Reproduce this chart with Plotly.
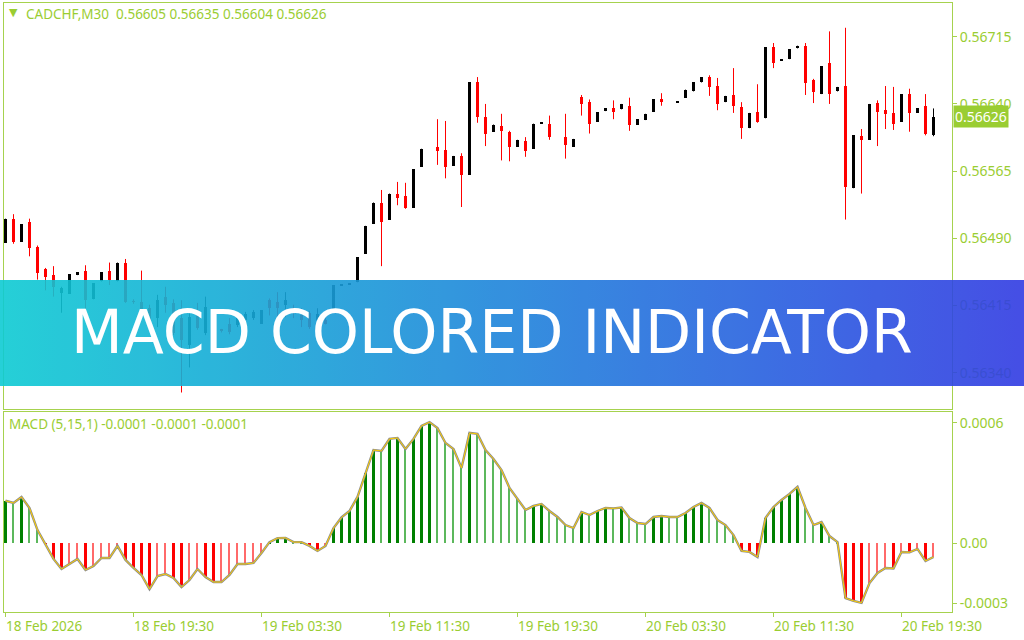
import base64
import plotly.graph_objects as go
from plotly.subplots import make_subplots

# CADCHF M30 candles, prices in points (x 1e-5)
open_pts = [56485, 56512, 56486, 56508, 56480, 56456, 56449, 56429, 56428, 56449,
            56454, 56422, 56442, 56454, 56442, 56463, 56420, 56419, 56412, 56401,
            56425, 56418, 56401, 56371, 56410, 56384, 56380, 56388, 56395, 56393,
            56399, 56401, 56395, 56421, 56419, 56416, 56412, 56404, 56407, 56399,
            56399, 56410, 56437, 56439, 56441, 56473, 56506, 56530, 56511, 56540,
            56537, 56524, 56570, 56590, 56592, 56589, 56571, 56582, 56561, 56664,
            56625, 56609, 56615, 56609, 56592, 56599, 56590, 56618, 56618, 56603,
            56603, 56592, 56648, 56642, 56620, 56632, 56635, 56634, 56638, 56617,
            56622, 56631, 56645, 56642, 56642, 56647, 56654, 56664, 56670, 56660,
            56642, 56650, 56637, 56613, 56631, 56624, 56703, 56688, 56690, 56702,
            56705, 56667, 56651, 56686, 56654, 56660, 56546, 56604, 56600, 56641,
            56633, 56630, 56620, 56651, 56630, 56638, 56605]
close_pts = [56512, 56486, 56506, 56479, 56451, 56447, 56436, 56435, 56450, 56452,
             56421, 56440, 56452, 56444, 56463, 56419, 56419, 56411, 56393, 56421,
             56416, 56384, 56377, 56402, 56390, 56413, 56384, 56387, 56385, 56401,
             56406, 56408, 56410, 56412, 56412, 56421, 56407, 56399, 56391, 56406,
             56395, 56438, 56438, 56440, 56469, 56504, 56530, 56508, 56540, 56535,
             56524, 56567, 56590, 56590, 56588, 56570, 56582, 56561, 56664, 56625,
             56607, 56617, 56610, 56592, 56600, 56588, 56618, 56619, 56603, 56603,
             56594, 56601, 56640, 56618, 56631, 56635, 56631, 56640, 56617, 56623,
             56629, 56645, 56642, 56642, 56643, 56656, 56664, 56670, 56659, 56640,
             56649, 56638, 56613, 56630, 56620, 56703, 56686, 56690, 56701, 56705,
             56663, 56653, 56682, 56651, 56659, 56547, 56605, 56600, 56640, 56631,
             56629, 56618, 56651, 56630, 56635, 56607, 56626]
high_pts = [56512, 56517, 56506, 56512, 56482, 56457, 56459, 56436, 56450, 56452,
            56460, 56440, 56452, 56463, 56463, 56467, 56422, 56454, 56416, 56427,
            56436, 56422, 56421, 56408, 56418, 56425, 56384, 56389, 56401, 56404,
            56408, 56410, 56410, 56423, 56430, 56430, 56416, 56412, 56409, 56412,
            56401, 56438, 56438, 56440, 56469, 56504, 56530, 56544, 56540, 56553,
            56552, 56567, 56590, 56590, 56623, 56621, 56582, 56585, 56664, 56670,
            56640, 56617, 56629, 56610, 56600, 56603, 56618, 56619, 56627, 56603,
            56629, 56601, 56650, 56645, 56631, 56635, 56644, 56640, 56647, 56623,
            56629, 56645, 56652, 56642, 56643, 56656, 56664, 56670, 56672, 56669,
            56649, 56680, 56642, 56630, 56662, 56703, 56708, 56690, 56701, 56705,
            56708, 56668, 56682, 56721, 56659, 56725, 56605, 56612, 56640, 56644,
            56660, 56659, 56651, 56657, 56635, 56651, 56635]
low_pts = [56485, 56484, 56486, 56470, 56444, 56432, 56425, 56407, 56428, 56449,
           56410, 56422, 56442, 56438, 56442, 56418, 56417, 56408, 56390, 56391,
           56407, 56382, 56318, 56346, 56388, 56382, 56380, 56385, 56383, 56391,
           56397, 56399, 56395, 56404, 56395, 56402, 56401, 56391, 56389, 56395,
           56394, 56410, 56437, 56439, 56441, 56473, 56506, 56459, 56511, 56527,
           56523, 56524, 56570, 56590, 56572, 56557, 56571, 56525, 56561, 56619,
           56593, 56609, 56577, 56576, 56592, 56581, 56590, 56618, 56600, 56603,
           56579, 56592, 56627, 56607, 56620, 56632, 56623, 56634, 56610, 56617,
           56622, 56631, 56638, 56642, 56642, 56647, 56654, 56664, 56649, 56633,
           56642, 56630, 56601, 56613, 56619, 56624, 56680, 56688, 56690, 56702,
           56650, 56641, 56651, 56640, 56654, 56511, 56546, 56540, 56600, 56593,
           56612, 56611, 56620, 56609, 56630, 56605, 56604]

# MACD (5,15,1) values in units of 1e-5
macd_pts = [21.2, 20.1, 23.1, 17.6, 6.6, -0.3, -7.8, -12.8, -10.3, -7.8,
            -13.3, -11.3, -7.3, -7.3, -1.3, -8.3, -12.3, -15.8, -22.8, -16.3,
            -15.3, -17.3, -21.8, -18.3, -12.8, -16.8, -19.3, -19.3, -15.8, -10.3,
            -10.3, -9.8, -4.8, 0.6, 2.6, 2.7, 0.6, 0.6, -1.3, -3.8,
            -1.3, 7.6, 12.9, 16.1, 23.1, 35.0, 46.5, 46.0, 52.0, 52.5,
            47.0, 52.0, 58.5, 60.4, 57.4, 50.0, 47.0, 37.5, 55.0, 54.5,
            46.5, 42.0, 36.5, 27.6, 22.1, 16.6, 18.6, 19.6, 16.1, 13.1,
            9.1, 7.6, 15.6, 14.1, 16.1, 17.6, 17.4, 17.8, 12.6, 10.1,
            9.6, 13.1, 13.6, 13.1, 13.1, 15.1, 18.1, 20.1, 17.6, 11.6,
            9.1, 4.1, -3.8, -4.3, -6.8, 12.6, 18.1, 21.6, 24.6, 28.1,
            17.6, 9.1, 10.6, 3.6, 0.6, -27.3, -28.7, -29.7, -19.8, -14.8,
            -12.3, -12.5, -4.3, -4.5, -2.8, -8.8, -6.8]

tick_idx = [0, 16, 32, 48, 64, 80, 96, 112]
tick_labels = ['18 Feb 2026', '18 Feb 19:30', '19 Feb 03:30', '19 Feb 11:30',
               '19 Feb 19:30', '20 Feb 03:30', '20 Feb 11:30', '20 Feb 19:30']
price_ticks = [0.56715, 0.56640, 0.56565, 0.56490, 0.56415, 0.56340]
macd_ticks = [0.0006, 0.0, -0.0003]
macd_tick_labels = ['0.0006', '0.00', '-0.0003']
last_price = 0.56626

TXT = '#9acd32'
LC = '#a6d24e'
FONT = 'Noto Sans'

o = [v / 1e5 for v in open_pts]
c = [v / 1e5 for v in close_pts]
h = [v / 1e5 for v in high_pts]
l = [v / 1e5 for v in low_pts]
macd = [v * 1e-5 for v in macd_pts]
idx = list(range(len(o)))

fig = make_subplots(rows=2, cols=1, shared_xaxes=True, vertical_spacing=0.01)

# candles: wicks then bodies
for up, col in [(True, '#000000'), (False, '#ff0000')]:
    wx, wy = [], []
    bx, by, bb = [], [], []
    for i in idx:
        if (c[i] >= o[i]) != up:
            continue
        wx += [i, i, None]
        wy += [l[i], h[i], None]
        bx.append(i)
        by.append(abs(c[i] - o[i]))
        bb.append(min(o[i], c[i]))
    fig.add_trace(go.Scatter(x=wx, y=wy, mode='lines', line=dict(color=col, width=1),
                             hoverinfo='skip'), row=1, col=1)
    fig.add_trace(go.Bar(x=bx, y=by, base=bb, width=0.375, marker=dict(color=col, line=dict(width=0))),
                  row=1, col=1)

# MACD histogram coloured by direction
groups = {'up_pos': ([], [], '#008000', 0.375), 'dn_pos': ([], [], '#5cb85c', 0.14),
          'dn_neg': ([], [], '#ff0000', 0.375), 'up_neg': ([], [], '#ff6a6a', 0.14)}
for i, v in enumerate(macd):
    prev = macd[i - 1] if i else v - 1
    if v >= 0:
        key = 'up_pos' if v > prev else 'dn_pos'
    else:
        key = 'dn_neg' if v < prev else 'up_neg'
    groups[key][0].append(i)
    groups[key][1].append(v)
for gx, gy, col, w in groups.values():
    fig.add_trace(go.Bar(x=gx, y=gy, width=w, marker=dict(color=col, line=dict(width=0))), row=2, col=1)

fig.add_trace(go.Scatter(x=idx, y=macd, mode='lines', line=dict(color='#8c8c8c', width=2.4)), row=2, col=1)
fig.add_trace(go.Scatter(x=idx, y=macd, mode='lines', line=dict(color='#ffd000', width=1)), row=2, col=1)

# banner gradient as an svg image
svg = ('<svg xmlns="http://www.w3.org/2000/svg" width="1024" height="106" preserveAspectRatio="none">'
       '<defs><linearGradient id="g" x1="0" y1="0" x2="1" y2="0">'
       '<stop offset="0" stop-color="#0ecbd3"/><stop offset="1" stop-color="#313ce3"/>'
       '</linearGradient></defs><rect width="1024" height="106" fill="url(#g)"/></svg>')
src = 'data:image/svg+xml;base64,' + base64.b64encode(svg.encode()).decode()

W, H = 1024, 640
L, R, T, B = 4, 952, 3, 612
pw, ph = R - L, B - T


def px(x):
    return (x - L) / pw


def py(y):
    return (B - y) / ph


fig.update_layout(
    width=W, height=H,
    margin=dict(l=L, r=W - R, t=T, b=H - B),
    paper_bgcolor='white', plot_bgcolor='white',
    showlegend=False, barmode='overlay', bargap=0, hovermode=False,
    font=dict(family=FONT, size=13, color=TXT),
    images=[dict(source=src, xref='paper', yref='paper', x=px(0), y=py(280),
                 sizex=W / pw, sizey=106 / ph, sizing='stretch',
                 xanchor='left', yanchor='top', layer='above', opacity=0.9)],
)

# half-pixel offset keeps the 1px wicks crisp
xr = [-0.1875, 118.3125]
fig.update_xaxes(range=xr, showgrid=False, zeroline=False, showline=True, mirror=True,
                 linecolor=LC, linewidth=1)
fig.update_xaxes(showticklabels=False, ticks='', row=1, col=1)
fig.update_xaxes(tickvals=tick_idx, showticklabels=False, ticks='outside', ticklen=4,
                 tickcolor=LC, row=2, col=1)

fig.update_yaxes(side='right', showgrid=False, zeroline=False, showline=True, mirror=True,
                 linecolor=LC, linewidth=1, ticks='outside', ticklen=4, tickcolor=LC,
                 tickfont=dict(family=FONT, size=14, color=TXT))
fig.update_yaxes(range=[0.562996, 0.5675265], tickvals=price_ticks,
                 ticktext=['%.5f' % v for v in price_ticks], domain=[py(409), 1], row=1, col=1)
fig.update_yaxes(range=[-0.0003423, 0.0006542], tickvals=macd_ticks, ticktext=macd_tick_labels,
                 domain=[0, py(412)], row=2, col=1)

ann = []
for i, t in zip(tick_idx, tick_labels):
    ann.append(dict(x=i, xref='x2', y=0, yref='paper', yanchor='top', xanchor='left',
                    yshift=-3, xshift=-2, text=t, showarrow=False,
                    font=dict(family=FONT, size=13.5, color=TXT)))
ann.append(dict(x=1, xref='paper', y=last_price, yref='y', xanchor='left', yanchor='middle',
                xshift=1, text='0.56626', showarrow=False, bgcolor='#9acd32', borderpad=1,
                font=dict(family=FONT, size=14, color='white')))
ann.append(dict(x=px(13), xref='paper', y=py(13), yref='paper', xanchor='center', yanchor='middle',
                text='▼', showarrow=False, font=dict(family='DejaVu Sans', size=11, color=TXT)))
ann.append(dict(x=px(24), xref='paper', y=py(14), yref='paper', xanchor='left', yanchor='middle',
                text='CADCHF,M30  0.56605 0.56635 0.56604 0.56626', showarrow=False,
                font=dict(family=FONT, size=13.5, color=TXT)))
ann.append(dict(x=px(7), xref='paper', y=py(424), yref='paper', xanchor='left', yanchor='middle',
                text='MACD (5,15,1) -0.0001 -0.0001 -0.0001', showarrow=False,
                font=dict(family=FONT, size=13.5, color=TXT)))
ann.append(dict(x=px(492), xref='paper', y=py(332), yref='paper', xanchor='center',
                yanchor='middle', text='MACD COLORED INDICATOR', showarrow=False,
                font=dict(family='DejaVu Sans', size=60, color='white')))
fig.update_layout(annotations=ann)

# the page body has a default 8px margin; drop it so the figure sits at the window corner
fig.write_html("out.html", config={'displayModeBar': False},
               post_script="document.body.style.margin='0';")
